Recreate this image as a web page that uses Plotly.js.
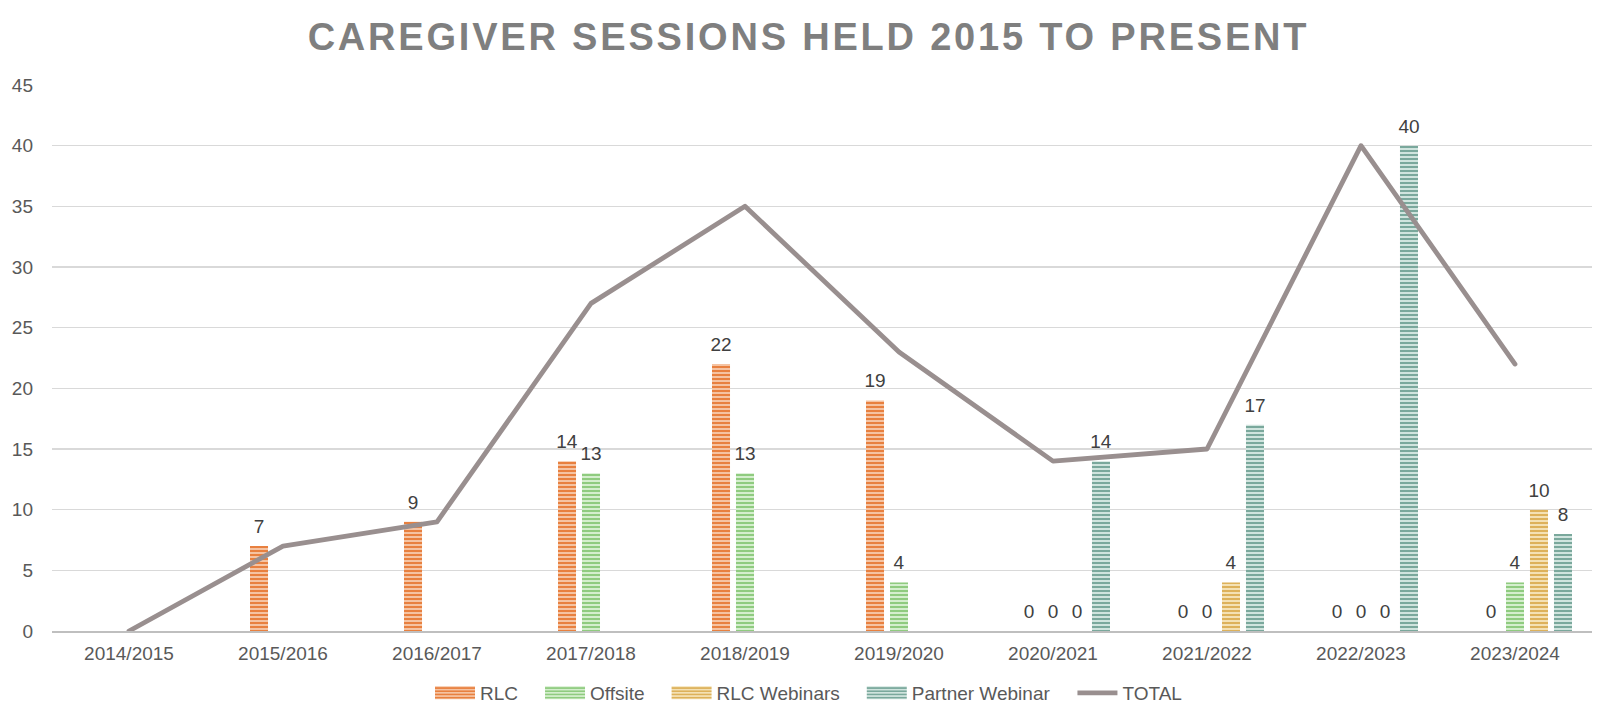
<!DOCTYPE html>
<html>
<head>
<meta charset="utf-8">
<script src="https://cdn.plot.ly/plotly-3.0.1.min.js"></script>
<style>
  html, body { margin: 0; padding: 0; background: #ffffff; }
  #chart { width: 1617px; height: 722px; }
  .gtitle { letter-spacing: 2.8px; }
  .scatterlayer .js-line { stroke-linecap: round; stroke-linejoin: round; }
</style>
</head>
<body>
<div id="chart"></div>
<script>
const years = ["2014/2015","2015/2016","2016/2017","2017/2018","2018/2019","2019/2020","2020/2021","2021/2022","2022/2023","2023/2024"];
const rlc            = [null, 7,    9,    14,   22,   19,   0,    0,    0,    0];
const offsite        = [null, null, null, 13,   13,   4,    0,    0,    0,    4];
const rlcWebinars    = [null, null, null, null, null, null, 0,    4,    0,    10];
const partnerWebinar = [null, null, null, null, null, null, 14,   17,   40,   8];
const total          = [0,    7,    9,    27,   35,   23,   14,   15,   40,   22];
const yTicks = [0, 5, 10, 15, 20, 25, 30, 35, 40, 45];

const FONT = '"Liberation Sans", Arial, sans-serif';
const BAR_W = 0.117;
const SLOT = 0.1558;

function barTrace(name, values, slotIndex, fg, bg) {
  return {
    type: 'bar',
    name: name,
    x: years,
    y: values,
    width: BAR_W,
    offset: slotIndex * SLOT - BAR_W / 2,
    text: values.map(v => v === null ? '' : String(v)),
    textposition: 'outside',
    constraintext: 'none',
    cliponaxis: false,
    textfont: { family: FONT, size: 19, color: '#404040' },
    marker: {
      color: bg,
      line: { width: 0 },
      pattern: { shape: '-', fgcolor: fg, bgcolor: bg, size: 4, solidity: 0.5, fillmode: 'replace' }
    },
    hoverinfo: 'x+y+name'
  };
}

const data = [
  barTrace('RLC', rlc, -1, '#E8803F', '#F5C3A2'),
  barTrace('Offsite', offsite, 0, '#8FCB7F', '#D4EECD'),
  barTrace('RLC Webinars', rlcWebinars, 1, '#DDB15A', '#F4E1B4'),
  barTrace('Partner Webinar', partnerWebinar, 2, '#7AA89C', '#D0E4DE'),
  {
    type: 'scatter',
    mode: 'lines',
    name: 'TOTAL',
    x: years,
    y: total,
    line: { color: '#998F8F', width: 4.8 },
    hoverinfo: 'x+y+name'
  }
];

const layout = {
  width: 1617,
  height: 722,
  paper_bgcolor: '#ffffff',
  plot_bgcolor: '#ffffff',
  margin: { l: 52, r: 25, t: 85, b: 91, pad: 0, autoexpand: false },
  barmode: 'overlay',
  title: {
    text: 'CAREGIVER SESSIONS HELD 2015 TO PRESENT',
    font: { family: FONT, size: 38, color: '#7F7F7F', weight: 'bold' },
    x: 0.5, xref: 'container', xanchor: 'center',
    y: 1 - 37 / 722, yref: 'container', yanchor: 'middle'
  },
  xaxis: {
    type: 'category',
    range: [-0.5, 9.5],
    showgrid: false,
    showline: true,
    linecolor: '#BFBFBF',
    linewidth: 2.2,
    ticks: '',
    tickfont: { family: FONT, size: 19, color: '#595959' },
    ticklabelstandoff: 4,
    zeroline: false,
    fixedrange: true
  },
  yaxis: {
    range: [0, 45],
    tickvals: yTicks,
    ticktext: yTicks.map(String),
    showgrid: true,
    gridcolor: '#D9D9D9',
    gridwidth: 1.5,
    showline: false,
    zeroline: false,
    ticks: '',
    tickfont: { family: FONT, size: 19, color: '#595959' },
    ticklabelstandoff: 18,
    fixedrange: true
  },
  showlegend: true,
  legend: {
    orientation: 'h',
    x: 0.5, xanchor: 'center', xref: 'container',
    y: (631 - 693) / 546, yanchor: 'middle',
    font: { family: FONT, size: 19, color: '#595959' },
    itemwidth: 40,
    traceorder: 'normal',
    bgcolor: 'rgba(0,0,0,0)'
  },
  hovermode: false
};

const LEGEND_EXTRA_GAP = 17;

Plotly.newPlot('chart', data, layout, { displayModeBar: false, staticPlot: true }).then(function (gd) {
  const leg = gd.querySelector('g.legend');
  if (leg) {
    // let the widened legend draw outside its original clip box
    leg.removeAttribute('clip-path');
    leg.querySelectorAll('[clip-path]').forEach(function (el) { el.removeAttribute('clip-path'); });
  }
  // widen bar legend swatches to Excel-like rectangles
  gd.querySelectorAll('.legend .legendpoints path').forEach(function (p) {
    const d = p.getAttribute('d') || '';
    if (d.replace(/\s/g, '') === 'M6,6H-6V-6H6Z') {
      p.setAttribute('d', 'M20,6.5H-20V-6.5H20Z');
    }
  });
  // extra spacing between legend entries, keeping the legend centred
  const items = gd.querySelectorAll('.legend .traces');
  items.forEach(function (g, i) {
    const tr = g.getAttribute('transform') || '';
    g.setAttribute('transform', 'translate(' + (i * LEGEND_EXTRA_GAP) + ',0) ' + tr);
  });
  if (leg && items.length > 1) {
    const tr = leg.getAttribute('transform') || '';
    leg.setAttribute('transform', 'translate(' + (-(items.length - 1) * LEGEND_EXTRA_GAP / 2) + ',0) ' + tr);
  }
  // lift outside bar labels a little above the bar tops
  gd.querySelectorAll('.barlayer text.bartext').forEach(function (t) {
    const tr = t.getAttribute('transform') || '';
    t.setAttribute('transform', 'translate(0,-6) ' + tr);
  });
});
</script>
</body>
</html>
